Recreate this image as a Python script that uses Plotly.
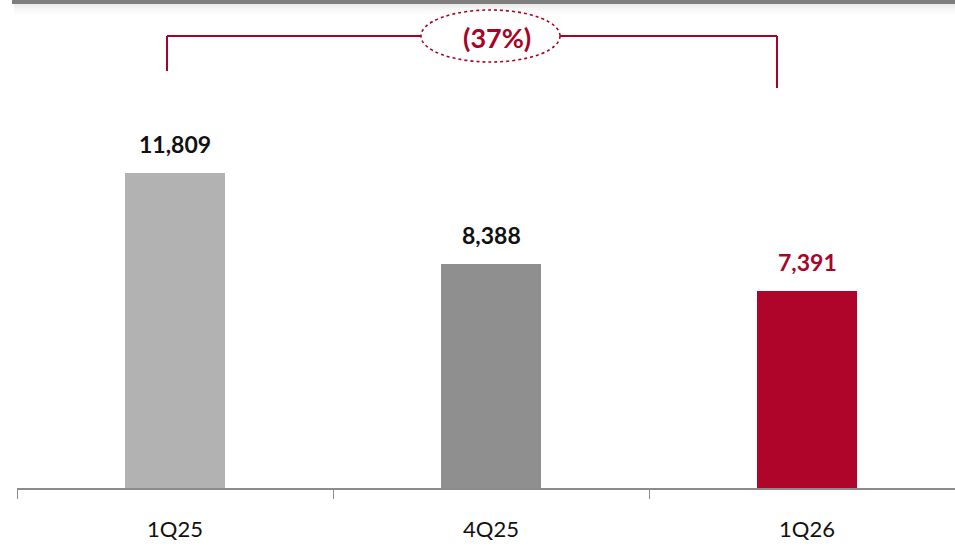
import plotly.graph_objects as go

# Quarterly values
quarters = ["1Q25", "4Q25", "1Q26"]
values = [11809, 8388, 7391]
bar_colors = ["#B2B2B2", "#8F8F8F", "#B0052A"]
label_colors = ["#111111", "#111111", "#A8052B"]

RED = "#A80326"
W, H = 955, 549
L, B = 17, 61          # plot area margins in px
PLOT_W, PLOT_H = W - L, H - B
CAT_W = 316            # px per category
PX_PER_UNIT = 315 / values[0]
Y_MAX = PLOT_H / PX_PER_UNIT


def px_to_x(px):
    return (px - L) / CAT_W - 0.5


def py_to_y(py):
    return (PLOT_H - py) / PX_PER_UNIT


def py_to_paper(py):
    return (PLOT_H - py) / PLOT_H


def px_to_paper(px):
    return (px - L) / PLOT_W


fig = go.Figure(
    go.Bar(
        x=quarters,
        y=values,
        marker=dict(color=bar_colors, line=dict(width=0)),
        width=0.316,
        hoverinfo="skip",
    )
)

# value labels above bars
annotations = []
for q, v, c in zip(quarters, values, label_colors):
    annotations.append(dict(
        x=q, y=v, xref="x", yref="y", text=f"<b>{v:,}</b>",
        showarrow=False, yanchor="bottom", yshift=13,
        font=dict(family="Lato", size=23, color=c),
    ))

# change label between first and last quarter
change = round((values[-1] / values[0] - 1) * 100)
change_txt = f"({abs(change)}%)" if change < 0 else f"{change}%"
annotations.append(dict(
    x=px_to_x(497), y=py_to_y(37), xref="x", yref="y",
    text=f"<b>{change_txt}</b>", showarrow=False,
    font=dict(family="Lato", size=27, color=RED),
))

shapes = []
# header rule with soft shadow
for i, col in enumerate(["#ECECEC", "#F1F1F1", "#F5F5F5", "#F9F9F9", "#FCFCFC"]):
    shapes.append(dict(
        type="rect", xref="paper", yref="paper",
        x0=px_to_paper(14), x1=1, y0=py_to_paper(4 + 2 * (i + 1)), y1=py_to_paper(4 + 2 * i),
        line=dict(width=0), fillcolor=col, layer="below",
    ))
shapes.append(dict(
    type="rect", xref="paper", yref="paper",
    x0=px_to_paper(12), x1=1, y0=py_to_paper(4), y1=py_to_paper(0),
    line=dict(width=0), fillcolor="#7E7E7E",
))

# bracket connecting first and last bars
bx0, bx1 = px_to_x(167), px_to_x(777)
by = py_to_y(36)
shapes += [
    dict(type="line", xref="x", yref="y", x0=bx0, x1=bx0, y0=py_to_y(71), y1=by,
         line=dict(color=RED, width=2)),
    dict(type="line", xref="x", yref="y", x0=bx0, x1=bx1, y0=by, y1=by,
         line=dict(color=RED, width=2)),
    dict(type="line", xref="x", yref="y", x0=bx1, x1=bx1, y0=py_to_y(88), y1=by,
         line=dict(color=RED, width=2)),
    dict(type="circle", xref="x", yref="y",
         x0=px_to_x(421), x1=px_to_x(560), y0=py_to_y(62), y1=py_to_y(10),
         fillcolor="white", line=dict(color=RED, width=1.6, dash="dot")),
]

fig.update_layout(
    width=W, height=H,
    margin=dict(l=L, r=0, t=0, b=B),
    paper_bgcolor="white", plot_bgcolor="white",
    showlegend=False,
    bargap=0,
    annotations=annotations,
    shapes=shapes,
    xaxis=dict(
        range=[-0.5, px_to_x(W)],
        showgrid=False, zeroline=False,
        showline=True, linecolor="#8C8C8C", linewidth=2,
        ticks="outside", tickson="boundaries", ticklen=9, tickwidth=1, tickcolor="#8C8C8C",
        tickfont=dict(family="Lato", size=22, color="#111111"),
        ticklabelstandoff=21,
        fixedrange=True,
    ),
    yaxis=dict(
        range=[0, Y_MAX], visible=False, fixedrange=True,
    ),
)

fig.write_html("out.html")
